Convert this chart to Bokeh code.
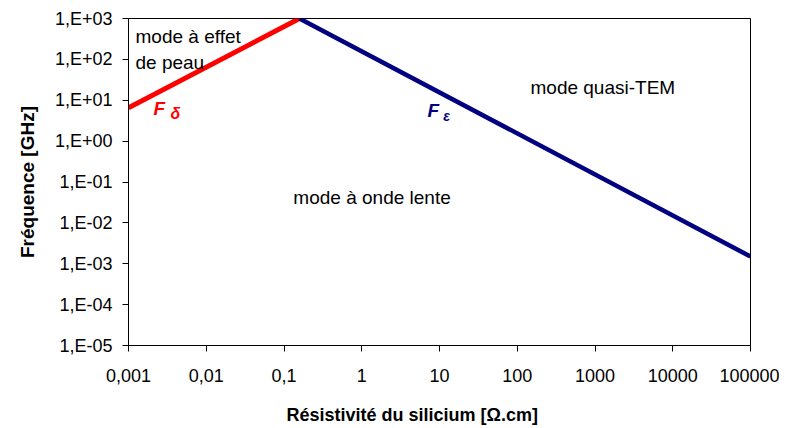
from bokeh.plotting import figure
from bokeh.models import Range1d, FixedTicker, Title, LogAxis
from bokeh.core.properties import value
from bokeh.embed import file_html
from bokeh.resources import INLINE

# --- data ---
f_delta_x = [0.001, 0.158]
f_delta_y = [6.5, 1000.0]
f_eps_x = [0.158, 100000.0]
f_eps_y = [1000.0, 0.0015]

x_ticks = [0.001, 0.01, 0.1, 1, 10, 100, 1000, 10000, 100000]
x_tick_labels = ["0,001", "0,01", "0,1", "1", "10", "100", "1000", "10000", "100000"]
y_ticks = [1e-5, 1e-4, 1e-3, 1e-2, 1e-1, 1, 10, 100, 1000]
y_tick_labels = ["1,E-05", "1,E-04", "1,E-03", "1,E-02", "1,E-01",
                 "1,E+00", "1,E+01", "1,E+02", "1,E+03"]

x_title = "Résistivité du silicium [Ω.cm]"
y_title = "Fréquence [GHz]"

region_texts = ["mode à effet", "de peau", "mode quasi-TEM", "mode à onde lente"]
region_x = [0.00123, 0.00123, 148.0, 0.132]
region_y = [370.0, 85.6, 20.5, 0.0419]

FONT = "Liberation Sans"

p = figure(width=779, height=428, x_axis_type="log", y_axis_type="log",
           x_range=Range1d(1e-3, 1e5), y_range=Range1d(1e-5, 1e3),
           output_backend="svg", toolbar_location=None,
           min_border_left=128, min_border_right=29,
           min_border_top=18, min_border_bottom=83)

p.xgrid.visible = False
p.ygrid.visible = False
p.background_fill_color = "white"
p.border_fill_color = "white"
p.outline_line_color = "black"
p.outline_line_width = 1
p.outline_line_alpha = 1

for ax, ticks, labels in ((p.xaxis[0], x_ticks, x_tick_labels),
                          (p.yaxis[0], y_ticks, y_tick_labels)):
    ax.ticker = FixedTicker(ticks=ticks, minor_ticks=[])
    ax.major_label_overrides = {t: l for t, l in zip(ticks, labels)}
    ax.major_tick_in = 0
    ax.major_tick_out = 6
    ax.minor_tick_in = 0
    ax.minor_tick_out = 0
    ax.axis_line_color = "black"
    ax.major_tick_line_color = "black"
    ax.major_label_text_font = FONT
    ax.major_label_text_font_size = "18px"
    ax.major_label_text_color = "black"

p.xaxis[0].major_label_standoff = 17
p.yaxis[0].major_label_standoff = 10

p.yaxis[0].axis_label = y_title
p.yaxis[0].axis_label_text_font = FONT
p.yaxis[0].axis_label_text_font_style = "bold"
p.yaxis[0].axis_label_text_font_size = "19px"
p.yaxis[0].axis_label_standoff = 14
p.yaxis[0].axis_label_text_color = "black"

# invisible spacer between the x axis and its title
spacer = LogAxis(ticker=FixedTicker(ticks=[1], minor_ticks=[]),
                 axis_line_color=None, major_tick_line_alpha=0,
                 minor_tick_line_color=None, major_tick_in=0,
                 major_tick_out=18, minor_tick_in=0, minor_tick_out=0,
                 major_label_standoff=0, major_label_overrides={1: ""},
                 major_label_text_font_size="0px", major_label_text_alpha=0)
p.add_layout(spacer, "below")

p.add_layout(Title(text=x_title, align="left", offset=158, standoff=0,
                   text_font=FONT, text_font_style="bold",
                   text_font_size="18px", text_color="black"), "below")

p.line(f_delta_x, f_delta_y, line_color="#FF0000", line_width=5)
p.line(f_eps_x, f_eps_y, line_color="#000080", line_width=4.5)

p.text(x=region_x, y=region_y, text=region_texts, text_font=value(FONT),
       text_font_size="19px", text_color="black",
       text_align="left", text_baseline="alphabetic")

# curve labels
p.text(x=[0.00210], y=[6.3], text=["F"], text_font=value(FONT),
       text_font_size="19px", text_font_style="bold italic",
       text_color="#FF0000", text_baseline="alphabetic")
p.text(x=[0.00346], y=[4.8], text=["δ"], text_font=value(FONT),
       text_font_size="16px", text_font_style="bold italic",
       text_color="#FF0000", text_baseline="alphabetic")
p.text(x=[7.02], y=[5.6], text=["F"], text_font=value(FONT),
       text_font_size="19px", text_font_style="bold italic",
       text_color="#000080", text_baseline="alphabetic")
p.text(x=[11.2], y=[4.2], text=["ε"], text_font=value(FONT),
       text_font_size="14px", text_font_style="bold italic",
       text_color="#000080", text_baseline="alphabetic")

open("out.html", "w").write(file_html(p, INLINE))
